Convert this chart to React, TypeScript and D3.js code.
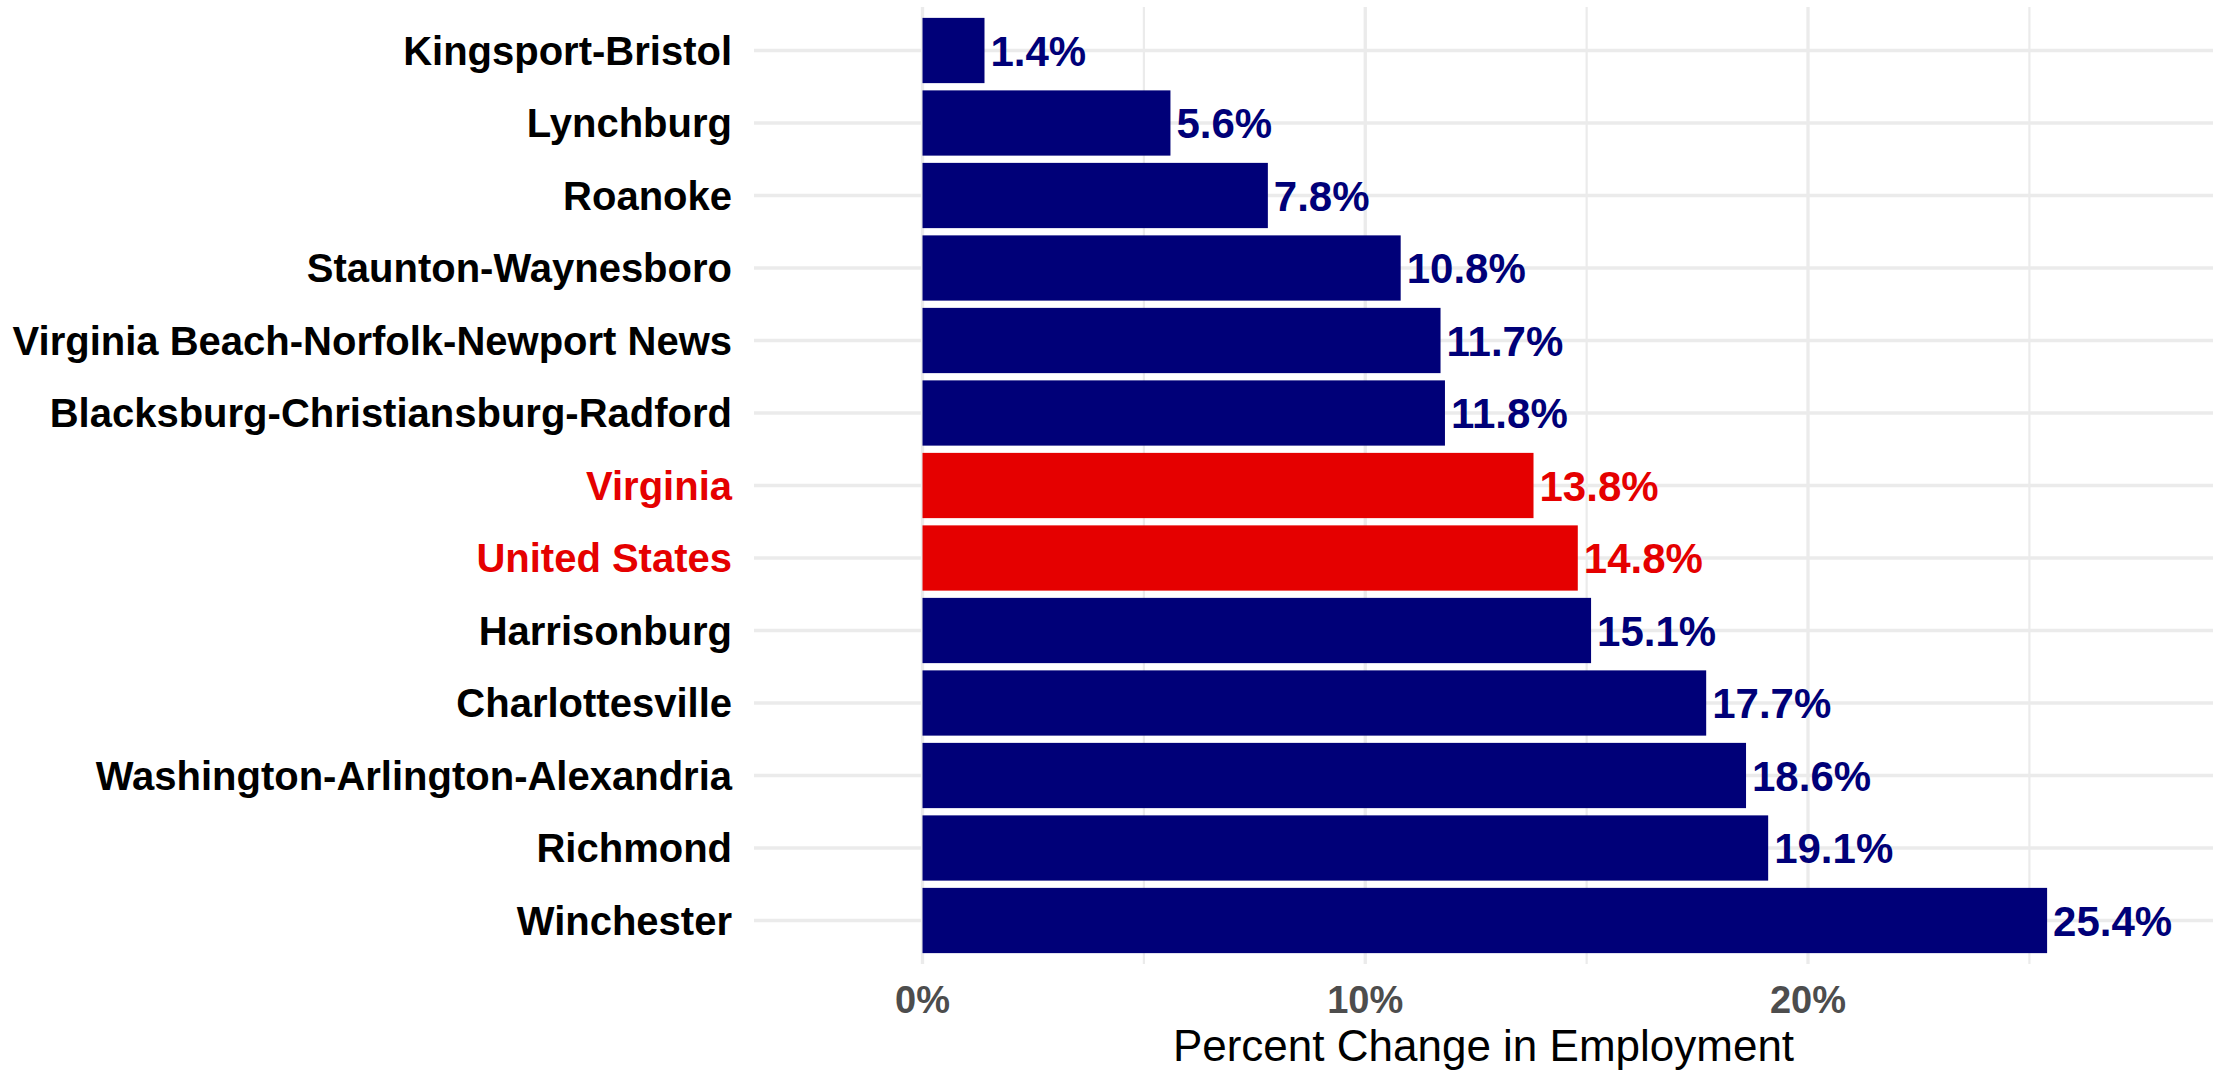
import React from "react";
import * as d3 from "d3";

const categories = [
  "Kingsport-Bristol",
  "Lynchburg",
  "Roanoke",
  "Staunton-Waynesboro",
  "Virginia Beach-Norfolk-Newport News",
  "Blacksburg-Christiansburg-Radford",
  "Virginia",
  "United States",
  "Harrisonburg",
  "Charlottesville",
  "Washington-Arlington-Alexandria",
  "Richmond",
  "Winchester",
];
const values = [1.4, 5.6, 7.8, 10.8, 11.7, 11.8, 13.8, 14.8, 15.1, 17.7, 18.6, 19.1, 25.4];
const highlighted = ["Virginia", "United States"];
const majorTicks = [0, 10, 20];
const minorTicks = [5, 15, 25];
const xTitle = "Percent Change in Employment";

const W = 2227;
const H = 1071;
const NAVY = "#000078";
const RED = "#e50000";
const GRID = "#ebebeb";
const FONT = "'Liberation Sans', Arial, Helvetica, sans-serif";

export default function App() {
  const panel = { left: 754, right: 2213, top: 7, bottom: 964 };
  const x = d3.scaleLinear().domain([-3.806, 29.147]).range([panel.left, panel.right]);
  const y = d3
    .scaleBand<string>()
    .domain(categories)
    .range([panel.top, panel.bottom])
    .paddingInner(0.1)
    .paddingOuter(0.15);
  const bw = y.bandwidth();
  const color = (c: string) => (highlighted.includes(c) ? RED : NAVY);
  const fmt = (v: number) => `${v.toFixed(1)}%`;

  return (
    <svg
      width={W}
      height={H}
      style={{ position: "absolute", left: 0, top: 0, background: "#fff" }}
      fontFamily={FONT}
    >
      <rect x={0} y={0} width={W} height={H} fill="#fff" />
      {minorTicks.map((t) => (
        <line key={"mi" + t} x1={x(t)} x2={x(t)} y1={panel.top} y2={panel.bottom} stroke={GRID} strokeWidth={2.2} />
      ))}
      {majorTicks.map((t) => (
        <line key={"ma" + t} x1={x(t)} x2={x(t)} y1={panel.top} y2={panel.bottom} stroke={GRID} strokeWidth={3.3} />
      ))}
      {categories.map((c) => {
        const cy = (y(c) as number) + bw / 2;
        return <line key={"h" + c} x1={panel.left} x2={panel.right} y1={cy} y2={cy} stroke={GRID} strokeWidth={3.3} />;
      })}
      {categories.map((c, i) => (
        <rect key={"b" + c} x={x(0)} y={y(c) as number} width={x(values[i]) - x(0)} height={bw} fill={color(c)} />
      ))}
      {categories.map((c, i) => (
        <text
          key={"v" + c}
          x={x(values[i]) + 6}
          y={(y(c) as number) + bw / 2}
          dy="0.36em"
          fontSize={42}
          fontWeight="bold"
          fill={color(c)}
        >
          {fmt(values[i])}
        </text>
      ))}
      {categories.map((c) => (
        <text
          key={"y" + c}
          x={732}
          y={(y(c) as number) + bw / 2}
          dy="0.36em"
          textAnchor="end"
          fontSize={40}
          fontWeight="bold"
          fill={highlighted.includes(c) ? RED : "#000"}
        >
          {c}
        </text>
      ))}
      {majorTicks.map((t) => (
        <text key={"xt" + t} x={x(t)} y={1013} textAnchor="middle" fontSize={38} fontWeight="bold" fill="#4d4d4d">
          {`${t}%`}
        </text>
      ))}
      <text x={(panel.left + panel.right) / 2} y={1061} textAnchor="middle" fontSize={44} fill="#000">
        {xTitle}
      </text>
    </svg>
  );
}
